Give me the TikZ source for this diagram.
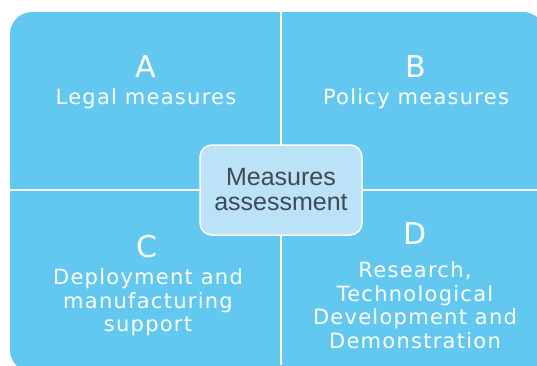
\documentclass[tikz,border=0pt]{standalone}
\usepackage{fontspec}
\setmainfont{DejaVu Sans}
\newfontfamily\quadfont[LetterSpace=6]{DejaVu Sans}
\newfontfamily\boxfont{Liberation Sans}
\usetikzlibrary{positioning}
\definecolor{quadblue}{RGB}{99,200,240}
\definecolor{boxblue}{RGB}{187,226,246}
\definecolor{boxtext}{RGB}{62,74,85}
\begin{document}
\begin{tikzpicture}[
  x=1pt, y=-1pt, % picture in pixel units, y running down
  every node/.style={inner sep=0pt, outer sep=0pt},
  quadletter/.style={text=white, anchor=base,
    font=\quadfont\fontsize{30}{30}\selectfont},
  quadlabel/.style={text=white, align=center, anchor=north,
    font=\quadfont\fontsize{21}{23.5}\selectfont},
  centrebox/.style={
    draw=white, line width=1.5pt, fill=boxblue, rounded corners=12pt,
    minimum width=162pt, minimum height=90pt,
    align=center, text=boxtext, font=\boxfont\fontsize{25}{25}\selectfont},
  divider/.style={draw=white, line width=1.5pt},
]
  \useasboundingbox (0,0) rectangle (537,365);
  \clip (0,0) rectangle (537,365);

  % background with the four quadrants
  \fill[quadblue, rounded corners=22pt] (10,12) rectangle (545,372);
  \coordinate (top)    at (281,12);
  \coordinate (bottom) at (281,365);
  \coordinate (left)   at (10,190);
  \coordinate (right)  at (537,190);
  \draw[divider] (top) -- (bottom);
  \draw[divider] (left) -- (right);

  % A: legal
  \node[quadletter] (qa) at (146,77) {A};
  \node[quadlabel] (la) at (146,89) {Legal measures};
  % B: policy
  \node[quadletter] (qb) at (416,77) {B};
  \node[quadlabel] (lb) at (416,89) {Policy measures};
  % C: deployment
  \node[quadletter] (qc) at (147,257) {C};
  \node[quadlabel] (lc) at (148,269) {Deployment and\\manufacturing\\support};
  % D: research
  \node[quadletter] (qd) at (415,244) {D};
  \node[quadlabel] (ld) at (415,262) {Research,\\Technological\\Development and\\Demonstration};

  % centre
  \node[centrebox] (assess) at (281,190) {Measures\\assessment};
\end{tikzpicture}
\end{document}
